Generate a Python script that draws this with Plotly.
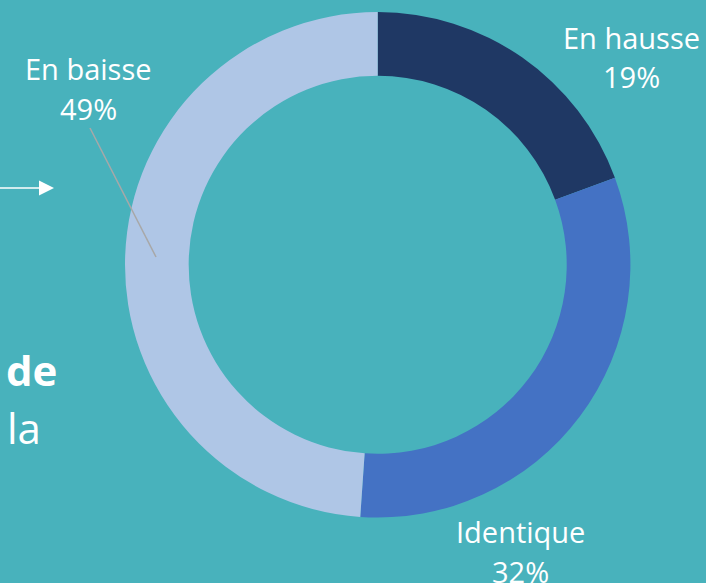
import plotly.graph_objects as go

W, H = 706, 583

categories = ["En hausse", "Identique", "En baisse"]
values = [19.4, 31.7, 48.9]
slice_colors = ["#1F3864", "#4472C4", "#AFC6E6"]
pct_labels = ["19%", "32%", "49%"]

BG = "#48B2BC"
FONT = "Open Sans"

def px(x):
    return x / W

def py(y):
    return 1 - y / H

cx, cy, r = 377.7, 264.8, 252.7

fig = go.Figure()
fig.add_trace(go.Pie(
    labels=categories,
    values=values,
    hole=0.748,
    sort=False,
    direction="clockwise",
    rotation=0,
    marker=dict(colors=slice_colors, line=dict(width=0)),
    textinfo="none",
    hoverinfo="label",
    showlegend=False,
    domain=dict(x=[px(cx - r), px(cx + r)], y=[py(cy + r), py(cy - r)]),
))

# label positions (pixel centers) for name and percentage lines
label_pos = {
    "En hausse": (631, 37, 77),
    "Identique": (520, 531, 571),
    "En baisse": (88, 69, 108),
}
anns = []
for cat, pct in zip(categories, pct_labels):
    x, y1, y2 = label_pos[cat]
    for txt, yy in ((cat, y1), (pct, y2)):
        anns.append(dict(x=px(x), y=py(yy), xref="paper", yref="paper",
                         text=txt, showarrow=False, xanchor="center", yanchor="middle",
                         font=dict(family=FONT, size=29, color="white")))

# cropped side text
anns.append(dict(x=px(59), y=py(369), xref="paper", yref="paper", text="<b>de</b>",
                 showarrow=False, xanchor="right", yanchor="middle",
                 font=dict(family=FONT, size=42, color="white")))
anns.append(dict(x=px(43), y=py(427), xref="paper", yref="paper", text="la",
                 showarrow=False, xanchor="right", yanchor="middle",
                 font=dict(family=FONT, size=42, color="white")))

shapes = [
    # leader line
    dict(type="line", xref="paper", yref="paper", x0=px(90), y0=py(128), x1=px(156), y1=py(257),
         line=dict(color="#A8A8A8", width=1.5)),
    # arrow
    dict(type="line", xref="paper", yref="paper", x0=px(0), y0=py(188), x1=px(42), y1=py(188),
         line=dict(color="white", width=1.5)),
    dict(type="path", xref="paper", yref="paper",
         path=f"M {px(39)},{py(180.5)} L {px(54)},{py(188)} L {px(39)},{py(195.5)} Z",
         fillcolor="white", line=dict(width=0)),
]

fig.update_layout(
    width=W, height=H,
    margin=dict(l=0, r=0, t=0, b=0),
    paper_bgcolor=BG, plot_bgcolor=BG,
    annotations=anns, shapes=shapes,
)

fig.write_html("out.html",
               config={"displayModeBar": False},
               post_script="document.body.style.margin='0';document.body.style.padding='0';document.body.style.background='" + BG + "';")
